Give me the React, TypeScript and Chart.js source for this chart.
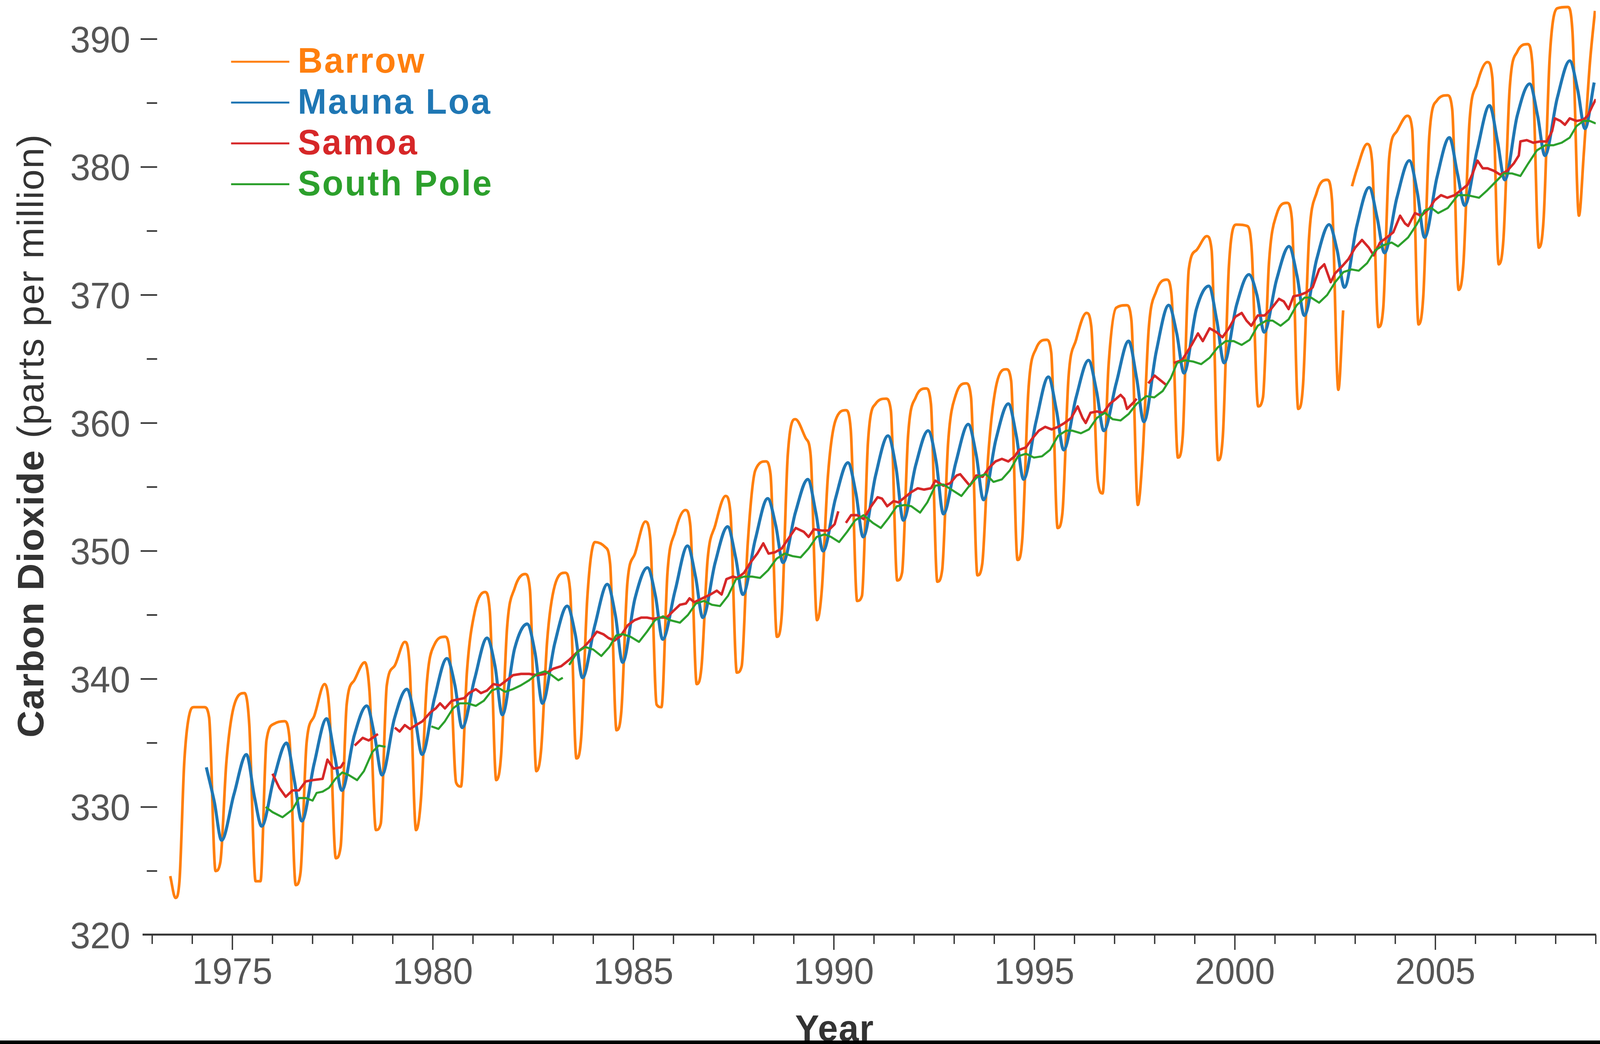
import React, { useEffect, useRef } from "react";
import { Chart, registerables } from "chart.js";

Chart.register(...registerables);

// ---------------- data ----------------
const SERIES_NAMES = ["Barrow", "Mauna Loa", "Samoa", "South Pole"];
const SERIES_COLORS = ["#ff7f0e", "#1f77b4", "#d62728", "#2ca02c"];

const X_MIN = 1972.76;
const X_MAX = 2009;
const Y_MIN = 320;
const Y_MAX = 393.05;
const X_LABEL_YEARS = [1975, 1980, 1985, 1990, 1995, 2000, 2005];
const Y_LABEL_VALUES = [320, 330, 340, 350, 360, 370, 380, 390];
const Y_MINOR_VALUES = [325, 335, 345, 355, 365, 375, 385];

// Barrow: one row per year (1974..2008), sampled at these fractions of the year
const BARROW_FIRST_YEAR = 1974;
const BARROW_MONTHS = [0.04, 0.3, 0.42, 0.58, 0.7, 0.85];
const BARROW_PPM: (number | null)[][] = [
  [337.8, 337.8, 337.0, 325.0, 325.7, 333.5],
  [337.9, 338.9, 336.5, 324.2, 324.2, 335.2],
  [336.5, 336.7, 335.5, 323.9, 324.9, 335.0],
  [337.1, 339.6, 337.5, 326.0, 326.9, 338.0],
  [339.9, 341.3, 339.0, 328.2, 328.7, 339.5],
  [341.0, 342.9, 341.0, 328.2, 330.5, 339.7],
  [342.7, 343.3, 342.0, 331.9, 331.6, 340.6],
  [345.2, 346.8, 345.3, 332.1, 334.0, 344.0],
  [347.1, 348.2, 347.0, 332.8, 334.5, 343.0],
  [347.3, 348.3, 347.0, 333.8, 335.5, 346.3],
  [350.7, 350.3, 349.0, 336.0, 337.5, 347.5],
  [349.8, 352.3, 351.0, 338.0, 337.8, 348.3],
  [351.5, 353.2, 352.0, 339.6, 341.0, 349.3],
  [352.0, 354.3, 353.0, 340.5, 341.0, 350.5],
  [356.3, 357.0, 356.0, 343.3, 345.0, 357.5],
  [360.3, 358.8, 357.5, 344.6, 347.0, 355.8],
  [360.2, 361.0, 359.5, 346.1, 346.5, 358.5],
  [361.5, 361.9, 361.0, 347.7, 348.3, 359.0],
  [362.0, 362.7, 361.5, 347.6, 348.5, 358.5],
  [362.2, 363.1, 362.0, 348.1, 349.0, 357.5],
  [362.8, 364.2, 363.3, 349.3, 351.0, 362.5],
  [365.8, 366.5, 365.5, 351.8, 353.0, 363.5],
  [366.5, 368.6, 367.5, 355.5, 354.5, 364.5],
  [369.0, 369.2, 368.0, 353.6, 357.5, 367.3],
  [370.3, 371.2, 370.0, 357.3, 359.0, 372.0],
  [373.5, 374.6, 373.5, 357.1, 359.0, 372.2],
  [375.5, 375.4, 373.5, 361.3, 362.0, 372.5],
  [376.3, 377.2, 376.0, 361.1, 363.0, 374.5],
  [378.0, 379.0, 377.5, 362.6, 368.8, null],
  [379.8, 381.8, 380.5, 367.5, 369.0, 380.8],
  [382.8, 384.0, 383.0, 367.7, 370.0, 382.5],
  [385.2, 385.6, 384.5, 370.4, 372.5, 383.5],
  [386.5, 388.2, 387.0, 372.4, 374.5, 386.0],
  [389.0, 389.6, 388.0, 373.7, 376.0, 388.5],
  [392.4, 392.5, 390.5, 376.2, 381.0, 388.0],
];
const BARROW_EXTRA: [number, number][] = [
  [1973.45, 324.6], [1973.58, 322.9], [1973.68, 324.2], [1973.8, 333.5], [1973.95, 337.5],
  [2002.92, 378.5], [2008.98, 392.2],
];

// Mauna Loa: one row per year (1974..2008): Jan, spring peak, July, autumn low
const MLO_FIRST_YEAR = 1974;
const MLO_MONTHS = [0.04, 0.35, 0.55, 0.73];
const MLO_PPM: (number | null)[][] = [
  [null, 333.1, 330.4, 327.4],
  [331.0, 334.1, 330.8, 328.5],
  [332.3, 335.0, 332.0, 328.9],
  [333.4, 336.9, 334.0, 331.3],
  [335.6, 337.9, 335.5, 332.5],
  [336.9, 339.2, 337.0, 334.1],
  [338.5, 341.6, 339.5, 336.2],
  [340.0, 343.2, 341.0, 337.2],
  [342.4, 344.3, 342.0, 338.1],
  [342.8, 345.7, 343.5, 340.1],
  [344.2, 347.4, 345.0, 341.3],
  [346.3, 348.7, 346.5, 343.1],
  [346.9, 350.4, 348.0, 344.8],
  [349.1, 351.9, 349.5, 346.6],
  [350.9, 354.1, 352.0, 349.1],
  [353.0, 355.6, 353.0, 350.0],
  [354.1, 356.9, 354.5, 351.1],
  [355.9, 359.0, 356.5, 352.4],
  [356.7, 359.4, 357.0, 352.9],
  [356.9, 359.9, 357.5, 354.0],
  [358.7, 361.5, 359.0, 355.6],
  [360.1, 363.6, 361.0, 357.9],
  [362.0, 364.9, 362.5, 359.4],
  [363.1, 366.4, 363.5, 360.1],
  [365.6, 369.2, 367.0, 363.9],
  [368.9, 370.7, 368.0, 364.7],
  [369.2, 371.6, 370.0, 367.1],
  [371.2, 373.8, 371.5, 368.4],
  [372.8, 375.5, 373.5, 370.6],
  [375.4, 378.4, 376.0, 373.3],
  [377.6, 380.5, 378.0, 374.5],
  [379.2, 382.3, 379.5, 377.0],
  [381.3, 384.8, 382.0, 379.0],
  [384.0, 386.5, 384.0, 380.9],
  [385.4, 388.3, 386.0, 383.0],
];
const MLO_EXTRA: [number, number][] = [[2008.96, 386.6]];

// Samoa: [decimal year, ppm]; null marks a gap in the record
const SAMOA: [number, number | null][] = [
  [1976.0, 332.6], [1976.17, 331.5], [1976.33, 330.8], [1976.5, 331.3], [1976.66, 331.3], [1976.83, 332.0],
  [1977.0, 332.1], [1977.25, 332.2], [1977.37, 333.7], [1977.52, 333.0], [1977.7, 333.1], [1977.78, 333.5],
  [1977.9, null],
  [1978.05, 334.8], [1978.25, 335.4], [1978.4, 335.2], [1978.63, 335.7],
  [1978.8, null],
  [1979.05, 336.2], [1979.17, 335.9], [1979.3, 336.4], [1979.43, 336.1], [1979.58, 336.4], [1979.74, 336.7],
  [1979.94, 337.4], [1980.07, 337.7], [1980.18, 338.1], [1980.3, 337.7], [1980.47, 338.3], [1980.63, 338.4],
  [1980.78, 338.5], [1980.9, 338.9], [1981.07, 339.2], [1981.2, 338.9], [1981.35, 339.1], [1981.51, 339.6],
  [1981.67, 339.5], [1981.84, 339.9], [1982.0, 340.3], [1982.2, 340.4], [1982.4, 340.4], [1982.6, 340.3],
  [1982.8, 340.4], [1983.0, 340.8], [1983.2, 341.0], [1983.4, 341.5], [1983.6, 342.1], [1983.77, 342.5],
  [1983.97, 343.2], [1984.09, 343.7], [1984.25, 343.5], [1984.38, 343.2], [1984.53, 343.0], [1984.69, 343.4],
  [1984.86, 344.2], [1985.03, 344.6], [1985.2, 344.8], [1985.34, 344.8], [1985.5, 344.7], [1985.66, 344.8],
  [1985.83, 344.8], [1985.99, 345.3], [1986.16, 345.8], [1986.31, 345.9], [1986.4, 346.3], [1986.52, 346.0],
  [1986.72, 346.3], [1986.92, 346.6], [1987.08, 346.9], [1987.2, 346.6], [1987.32, 347.8], [1987.48, 348.0],
  [1987.6, 347.9], [1987.76, 348.3], [1987.92, 349.1], [1988.09, 349.8], [1988.24, 350.6], [1988.37, 349.8],
  [1988.53, 349.9], [1988.7, 350.2], [1988.85, 350.9], [1989.05, 351.8], [1989.25, 351.5], [1989.37, 351.1],
  [1989.5, 351.7], [1989.7, 351.6], [1989.86, 351.6], [1990.02, 352.1], [1990.11, 353.1],
  [1990.2, null],
  [1990.3, 352.2], [1990.43, 352.8], [1990.58, 352.8], [1990.74, 352.5], [1990.93, 353.5], [1991.09, 354.2],
  [1991.2, 354.1], [1991.33, 353.5], [1991.49, 353.9], [1991.61, 353.8], [1991.77, 354.2], [1991.93, 354.6],
  [1992.09, 354.9], [1992.25, 354.8], [1992.42, 354.9], [1992.53, 355.5], [1992.73, 355.1], [1992.9, 355.3],
  [1993.06, 355.9], [1993.15, 356.0], [1993.31, 355.4], [1993.39, 355.1], [1993.55, 355.9], [1993.71, 355.8],
  [1993.87, 356.5], [1994.03, 357.0], [1994.19, 357.2], [1994.35, 357.0], [1994.51, 357.4], [1994.62, 357.9],
  [1994.79, 358.1], [1994.95, 358.8], [1995.11, 359.4], [1995.27, 359.7], [1995.43, 359.5], [1995.59, 359.7],
  [1995.75, 360.0], [1995.92, 360.4], [1996.08, 361.3], [1996.2, 360.4], [1996.28, 360.0], [1996.4, 360.8],
  [1996.56, 360.9], [1996.72, 360.8], [1996.88, 361.5], [1997.04, 361.9], [1997.15, 362.2], [1997.24, 361.9],
  [1997.31, 361.1], [1997.47, 361.6], [1997.55, 361.9],
  [1997.7, null],
  [1997.84, 363.1], [1998.0, 363.7], [1998.28, 363.0],
  [1998.38, null],
  [1998.48, 364.7], [1998.68, 364.9], [1998.92, 366.1], [1999.08, 367.0], [1999.2, 366.4], [1999.37, 367.4],
  [1999.54, 367.1], [1999.69, 366.7], [1999.85, 367.4], [2000.01, 368.3], [2000.17, 368.6], [2000.29, 368.0],
  [2000.41, 367.6], [2000.57, 368.4], [2000.74, 368.4], [2000.9, 368.9], [2001.1, 369.7], [2001.22, 369.5],
  [2001.34, 368.9], [2001.46, 369.9], [2001.62, 370.0], [2001.78, 370.2], [2001.94, 370.6], [2002.1, 372.0],
  [2002.23, 372.4], [2002.39, 371.0], [2002.5, 371.7], [2002.66, 372.2], [2002.83, 372.8], [2003.0, 373.7],
  [2003.17, 374.3], [2003.34, 373.7], [2003.46, 373.1], [2003.62, 374.1], [2003.79, 374.5], [2003.95, 374.9],
  [2004.12, 376.2], [2004.24, 375.6], [2004.32, 375.4], [2004.49, 376.4], [2004.65, 376.2], [2004.86, 376.8],
  [2004.98, 377.4], [2005.14, 377.8], [2005.3, 377.6], [2005.48, 377.8], [2005.64, 378.2], [2005.8, 378.6],
  [2005.93, 379.5], [2006.05, 380.5], [2006.18, 379.9], [2006.3, 379.9], [2006.46, 379.7], [2006.62, 379.4],
  [2006.79, 379.7], [2006.96, 380.3], [2007.08, 380.9], [2007.12, 382.0], [2007.28, 382.1], [2007.44, 381.9],
  [2007.62, 382.0], [2007.78, 382.0], [2007.91, 382.8], [2007.98, 383.8], [2008.12, 383.6], [2008.23, 383.3],
  [2008.35, 383.8], [2008.52, 383.6], [2008.69, 383.7], [2008.8, 384.0], [2008.92, 384.8], [2009.0, 385.3],
];

// South Pole: [decimal year, ppm]; null marks a gap in the record
const SOUTH_POLE: [number, number | null][] = [
  [1975.83, 330.0], [1976.0, 329.6], [1976.25, 329.2], [1976.5, 329.8], [1976.66, 330.7], [1976.83, 330.7],
  [1977.0, 330.5], [1977.1, 331.1], [1977.25, 331.2], [1977.41, 331.5], [1977.57, 332.2], [1977.74, 332.7],
  [1977.9, 332.5], [1978.11, 332.1], [1978.28, 332.8], [1978.49, 334.3], [1978.65, 334.8], [1978.82, 334.7],
  [1979.4, null],
  [1979.96, 336.3], [1980.14, 336.1], [1980.3, 336.7], [1980.5, 337.7], [1980.67, 338.1], [1980.87, 338.1],
  [1981.07, 337.9], [1981.27, 338.3], [1981.47, 339.1], [1981.64, 339.3], [1981.8, 339.0], [1981.99, 339.2],
  [1982.19, 339.5], [1982.4, 339.9], [1982.6, 340.4], [1982.8, 340.6], [1982.96, 340.3], [1983.13, 339.9],
  [1983.24, 340.1],
  [1983.3, null],
  [1983.4, 341.1], [1983.6, 342.1], [1983.8, 342.5], [1984.0, 342.3], [1984.2, 341.8], [1984.4, 342.5],
  [1984.57, 343.4], [1984.73, 343.5], [1984.93, 343.3], [1985.14, 342.9], [1985.34, 343.7], [1985.54, 344.6],
  [1985.74, 344.9], [1985.91, 344.6], [1986.16, 344.4], [1986.36, 345.0], [1986.56, 345.9], [1986.76, 346.1],
  [1986.96, 345.8], [1987.16, 345.7], [1987.36, 346.5], [1987.56, 347.8], [1987.76, 348.0], [1987.96, 348.0],
  [1988.16, 347.9], [1988.36, 348.5], [1988.57, 349.4], [1988.77, 349.8], [1988.97, 349.6], [1989.17, 349.5],
  [1989.37, 350.2], [1989.57, 351.1], [1989.77, 351.3], [1989.93, 351.1], [1990.13, 350.7], [1990.33, 351.5],
  [1990.53, 352.4], [1990.74, 352.8], [1990.97, 352.2], [1991.17, 351.8], [1991.37, 352.6], [1991.57, 353.5],
  [1991.77, 353.6], [1991.93, 353.5], [1992.15, 353.0], [1992.33, 353.8], [1992.53, 355.1], [1992.73, 355.2],
  [1992.98, 354.7], [1993.18, 354.3], [1993.38, 355.1], [1993.58, 355.8], [1993.79, 356.0], [1993.98, 355.4],
  [1994.19, 355.6], [1994.39, 356.3], [1994.59, 357.4], [1994.79, 357.6], [1994.99, 357.3], [1995.19, 357.4],
  [1995.39, 357.9], [1995.59, 359.0], [1995.79, 359.4], [1995.95, 359.4], [1996.16, 359.2], [1996.36, 359.5],
  [1996.56, 360.4], [1996.76, 360.8], [1996.95, 360.3], [1997.15, 360.2], [1997.35, 360.7], [1997.55, 361.5],
  [1997.79, 362.1], [1997.99, 362.0], [1998.2, 362.5], [1998.4, 363.5], [1998.56, 364.7], [1998.76, 364.9],
  [1998.96, 364.8], [1999.16, 364.6], [1999.37, 365.1], [1999.57, 365.9], [1999.77, 366.4], [1999.97, 366.4],
  [2000.17, 366.1], [2000.37, 366.5], [2000.57, 367.6], [2000.78, 368.0], [2000.94, 368.0], [2001.14, 367.6],
  [2001.34, 368.1], [2001.54, 369.2], [2001.74, 369.8], [2001.9, 369.8], [2002.1, 369.4], [2002.3, 370.0],
  [2002.5, 371.0], [2002.71, 371.8], [2002.91, 372.0], [2003.09, 371.9], [2003.3, 372.5], [2003.5, 373.5],
  [2003.71, 373.9], [2003.91, 374.1], [2004.07, 373.8], [2004.32, 374.5], [2004.53, 375.5], [2004.73, 376.6],
  [2004.9, 376.8], [2005.07, 376.4], [2005.31, 376.8], [2005.56, 377.8], [2005.8, 377.8], [2006.09, 377.6],
  [2006.3, 378.2], [2006.55, 379.0], [2006.71, 379.5], [2006.91, 379.5], [2007.12, 379.3], [2007.32, 380.3],
  [2007.53, 381.3], [2007.74, 381.7], [2007.94, 381.7], [2008.15, 381.9], [2008.35, 382.3], [2008.52, 383.2],
  [2008.69, 383.6], [2008.85, 383.6], [2009.0, 383.4],
];

// ---------------- helpers ----------------
type Pt = { x: number; y: number | null };

function fromYearRows(first: number, months: number[], rows: (number | null)[][], extra: [number, number][]): Pt[] {
  const pts: Pt[] = [];
  rows.forEach((row, i) => {
    row.forEach((v, j) => pts.push({ x: first + i + months[j], y: v }));
  });
  extra.forEach(([x, y]) => pts.push({ x, y }));
  pts.sort((a, b) => a.x - b.x);
  return pts;
}

function fromPairs(pairs: [number, number | null][]): Pt[] {
  return pairs.map(([x, y]) => ({ x, y }));
}

const DESIGN_W = 4175;
const DESIGN_H = 2672;
const FONT = "'Liberation Sans', Arial, sans-serif";
const AXIS_COLOR = "#333333";
const LABEL_COLOR = "#555555";

function makeDecorations(sx: number, sy: number) {
  return {
    id: "decorations",
    afterDraw(chart: any) {
      const { ctx } = chart;
      const xs = chart.scales.x;
      const ys = chart.scales.y;
      const a = {
        left: chart.chartArea.left / sx,
        right: chart.chartArea.right / sx,
        top: chart.chartArea.top / sy,
        bottom: chart.chartArea.bottom / sy,
      };
      const X = (v: number) => xs.getPixelForValue(v) / sx;
      const Y = (v: number) => ys.getPixelForValue(v) / sy;
      ctx.save();
      ctx.scale(sx, sy);

      // x axis line
      ctx.strokeStyle = AXIS_COLOR;
      ctx.lineWidth = 5;
      ctx.beginPath();
      ctx.moveTo(a.left, a.bottom - 1);
      ctx.lineTo(a.right + 1, a.bottom - 1);
      ctx.stroke();

      // x ticks (every year, longer every 5)
      ctx.lineWidth = 3.5;
      ctx.beginPath();
      for (let yr = Math.ceil(X_MIN); yr <= X_MAX; yr++) {
        const px = X(yr);
        const len = yr % 5 === 0 ? 38 : 23;
        ctx.moveTo(px, a.bottom);
        ctx.lineTo(px, a.bottom + len);
      }
      ctx.stroke();

      // x labels
      ctx.fillStyle = LABEL_COLOR;
      ctx.font = `94px ${FONT}`;
      ctx.textAlign = "center";
      ctx.textBaseline = "alphabetic";
      X_LABEL_YEARS.forEach((yr) => ctx.fillText(String(yr), X(yr), a.bottom + 125));

      // y ticks
      ctx.lineWidth = 4;
      ctx.beginPath();
      Y_LABEL_VALUES.forEach((v) => {
        if (v === Y_MIN) return;
        ctx.moveTo(a.left - 5, Y(v));
        ctx.lineTo(a.left + 38, Y(v));
      });
      Y_MINOR_VALUES.forEach((v) => {
        ctx.moveTo(a.left + 11, Y(v));
        ctx.lineTo(a.left + 38, Y(v));
      });
      ctx.stroke();

      // y labels
      ctx.textAlign = "right";
      Y_LABEL_VALUES.forEach((v) => ctx.fillText(String(v), a.left - 32, Y(v) + 34));

      // y title: bold + regular parts
      ctx.fillStyle = AXIS_COLOR;
      (ctx as any).letterSpacing = "2px";
      const boldFont = `bold 96px ${FONT}`;
      const regFont = `96px ${FONT}`;
      const part1 = "Carbon Dioxide";
      const part2 = " (parts per million)";
      ctx.font = boldFont;
      const w1 = ctx.measureText(part1).width;
      ctx.font = regFont;
      const w2 = ctx.measureText(part2).width;
      ctx.save();
      ctx.translate(113, 1115 + (w1 + w2) / 2);
      ctx.rotate(-Math.PI / 2);
      ctx.textAlign = "left";
      ctx.font = boldFont;
      ctx.fillText(part1, 0, 0);
      ctx.font = regFont;
      ctx.fillText(part2, w1, 0);
      ctx.restore();

      // x title
      (ctx as any).letterSpacing = "2px";
      ctx.font = `bold 94px ${FONT}`;
      ctx.textAlign = "center";
      ctx.fillText("Year", 2178, 2664);

      // legend
      (ctx as any).letterSpacing = "4px";
      ctx.font = `bold 90px ${FONT}`;
      ctx.textAlign = "left";
      chart.data.datasets.forEach((ds: any, i: number) => {
        const base = 186 + i * 104.5;
        ctx.strokeStyle = ds.borderColor;
        ctx.lineWidth = 5;
        ctx.beginPath();
        ctx.moveTo(603, base - 28);
        ctx.lineTo(755, base - 28);
        ctx.stroke();
        ctx.fillStyle = ds.borderColor;
        ctx.fillText(ds.label, 777, base);
      });
      (ctx as any).letterSpacing = "0px";

      ctx.restore();
    },
  };
}

export default function App() {
  const ref = useRef<HTMLCanvasElement | null>(null);
  const vw = typeof window !== "undefined" ? window.innerWidth || DESIGN_W : DESIGN_W;
  const vh = typeof window !== "undefined" ? window.innerHeight || DESIGN_H : DESIGN_H;
  const sx = vw / DESIGN_W;
  const sy = vh / DESIGN_H;
  const canvasW = Math.round(DESIGN_W * sx);
  const canvasH = Math.round(2663 * sy);

  useEffect(() => {
    if (!ref.current) return;
    const seriesData = [
      fromYearRows(BARROW_FIRST_YEAR, BARROW_MONTHS, BARROW_PPM, BARROW_EXTRA),
      fromYearRows(MLO_FIRST_YEAR, MLO_MONTHS, MLO_PPM, MLO_EXTRA),
      fromPairs(SAMOA),
      fromPairs(SOUTH_POLE),
    ];
    const widths = [7, 8, 6.5, 5.5];
    const smooth = [true, true, false, false];
    const chart = new Chart(ref.current, {
      type: "line",
      data: {
        datasets: SERIES_NAMES.map((name, i) => ({
          label: name,
          data: seriesData[i] as any,
          borderColor: SERIES_COLORS[i],
          backgroundColor: SERIES_COLORS[i],
          borderWidth: widths[i] * sx,
          pointRadius: 0,
          fill: false,
          spanGaps: false,
          tension: 0,
          cubicInterpolationMode: smooth[i] ? "monotone" : "default",
          borderJoinStyle: "round",
          order: SERIES_NAMES.length - i,
        })),
      },
      options: {
        animation: false,
        responsive: false,
        devicePixelRatio: 1,
        events: [],
        layout: { padding: { left: 372 * sx, right: 11 * sx, top: 0, bottom: 270 * sy } },
        plugins: { legend: { display: false }, tooltip: { enabled: false }, title: { display: false } },
        scales: {
          x: { type: "linear", min: X_MIN, max: X_MAX, display: false },
          y: { type: "linear", min: Y_MIN, max: Y_MAX, display: false },
        },
      },
      plugins: [makeDecorations(sx, sy)],
    } as any);
    return () => chart.destroy();
  }, []);

  return (
    <div style={{ position: "fixed", left: 0, top: 0, width: vw, height: vh, background: "#000", overflow: "hidden" }}>
      <div style={{ width: canvasW, height: canvasH, background: "#fff", overflow: "hidden" }}>
        <canvas ref={ref} width={canvasW} height={canvasH} style={{ display: "block", width: `${canvasW}px`, height: `${canvasH}px` }} />
      </div>
    </div>
  );
}
